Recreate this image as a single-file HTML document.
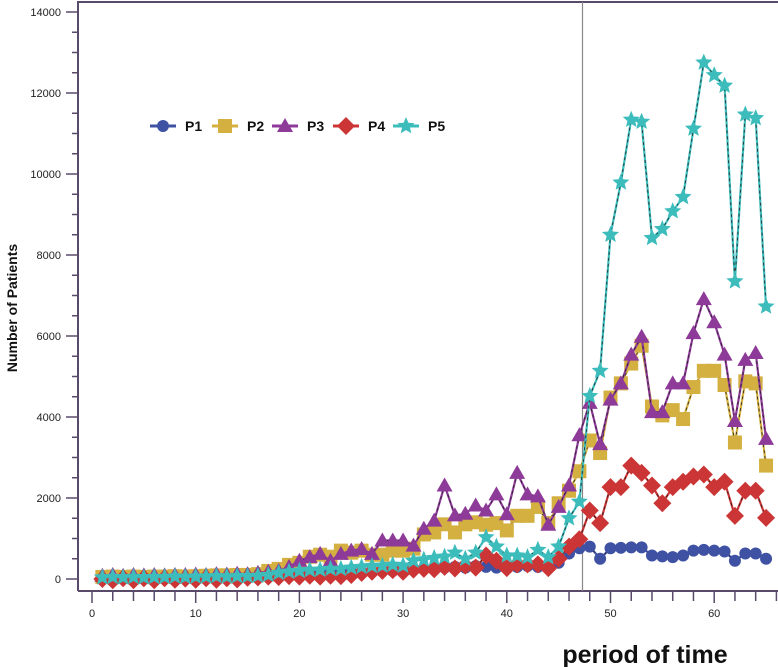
<!DOCTYPE html>
<html><head><meta charset="utf-8"><style>
html,body{margin:0;padding:0;background:#fff;width:778px;height:667px;overflow:hidden}
svg{display:block;font-family:"Liberation Sans",Arial,sans-serif}
</style></head><body>
<svg id="chart" width="778" height="667" viewBox="0 0 778 667" xmlns="http://www.w3.org/2000/svg"></svg>
<script>
const periods = Array.from({length:65},(_,i)=>i+1);
const p1 = [30,20,30,20,30,20,30,30,20,30,30,40,30,40,40,60,80,90,100,120,130,140,150,150,160,170,180,190,200,220,240,250,260,280,300,280,320,300,280,300,300,320,300,350,400,630,760,800,500,760,770,780,780,580,560,540,580,700,720,700,680,450,630,630,500];
const p2 = [50,60,50,60,50,60,60,70,60,70,80,90,90,100,100,120,200,250,350,400,550,600,550,700,650,700,600,600,700,700,750,1100,1150,1350,1150,1350,1400,1340,1380,1200,1560,1560,1780,1380,1870,2180,2660,3420,3110,4480,4830,5320,5760,4260,4040,4170,3950,4740,5140,5140,4790,3370,4880,4830,2800];
const p3 = [80,100,80,100,90,100,90,100,100,110,100,120,110,130,120,150,180,200,300,450,540,620,450,620,700,740,620,950,950,950,825,1240,1440,2310,1570,1610,1815,1690,2090,1600,2620,2090,2040,1340,1780,2310,3550,4350,3330,4430,4830,5540,5980,4120,4120,4830,4830,6070,6910,6340,5540,3900,5410,5580,3460];
const p4 = [0,-30,20,-30,20,-30,20,-20,10,-20,20,-20,20,-10,30,40,60,50,70,60,80,60,80,70,100,150,180,200,220,180,230,250,240,300,260,330,280,580,450,270,360,360,360,270,500,800,980,1690,1380,2270,2270,2800,2620,2310,1870,2270,2400,2530,2580,2270,2400,1560,2180,2180,1510];
const p5 = [40,50,40,50,40,50,50,60,50,60,60,70,60,70,70,80,100,150,180,200,220,230,250,250,280,300,320,330,350,330,450,480,520,550,650,500,650,1030,800,580,580,540,720,540,800,1500,1910,4520,5140,8500,9790,11340,11290,8420,8640,9080,9430,11120,12750,12440,12180,7350,11470,11380,6730];
const yTicks = [0,2000,4000,6000,8000,10000,12000,14000];
const xTicks = [0,10,20,30,40,50,60];
const seriesNames = ["P1","P2","P3","P4","P5"];

const svg = document.getElementById('chart');
const NS = 'http://www.w3.org/2000/svg';
const X0 = 92, XU = 10.37, Y0 = 579, YU = 81/2000;
const xs = v => X0 + v*XU;
const ys = v => Y0 - v*YU;
function mk(tag, attrs, parent){const e=document.createElementNS(NS,tag);for(const k in attrs)e.setAttribute(k,attrs[k]);(parent||svg).appendChild(e);return e;}

const frame = mk('path',{d:'M78 591 V2 H778 M78 591 H778',fill:'none',stroke:'#5a4a6a','stroke-width':2});



for(let v=0; v<=14000; v+=500){
  const major = v%2000===0;
  const t = mk('line',{x1:major?66:72,x2:78,y1:ys(v),y2:ys(v),stroke:'#5a4a6a','stroke-width':1.5});
  
  
}
yTicks.forEach(v=>{
  const t = mk('text',{x:61,y:ys(v)+4,'text-anchor':'end','font-size':11,fill:'#222'});
  t.textContent = v;
  
  
});
for(let v=0; v<=66; v+=2){
  const major = v%10===0;
  const t = mk('line',{x1:xs(v),x2:xs(v),y1:591,y2:major?603:601,stroke:'#5a4a6a','stroke-width':1.5});
  
  
}
xTicks.forEach(v=>{
  const t = mk('text',{x:xs(v),y:617,'text-anchor':'middle','font-size':11,fill:'#222'});
  t.textContent = v;
  
  
});
const vl = mk('line',{x1:xs(47.3),x2:xs(47.3),y1:2,y2:591,stroke:'#888','stroke-width':1.2});



const yt = mk('text',{x:0,y:0,transform:'translate(17,308) rotate(-90)','text-anchor':'middle','font-size':14,'font-weight':'bold',fill:'#111'});
yt.textContent='Number of Patients';


const xt = mk('text',{x:645,y:663,'text-anchor':'middle','font-size':25,'font-weight':'bold',fill:'#111'});
xt.textContent='period of time';



function star(cx,cy,r){let p=[];for(let i=0;i<10;i++){const a=-Math.PI/2+i*Math.PI/5;const rr=i%2?r*0.45:r;p.push((cx+rr*Math.cos(a)).toFixed(1)+','+(cy+rr*Math.sin(a)).toFixed(1));}return p.join(' ');}
function marker(type,cx,cy,color,g){
  if(type==='circle') return mk('circle',{cx,cy,r:6,fill:color},g);
  if(type==='square') return mk('rect',{x:cx-7,y:cy-7,width:14,height:14,fill:color},g);
  if(type==='tri') return mk('polygon',{points:`${cx},${cy-8} ${cx+8},${cy+6} ${cx-8},${cy+6}`,fill:color},g);
  if(type==='diamond') return mk('polygon',{points:`${cx},${cy-9} ${cx+9},${cy} ${cx},${cy+9} ${cx-9},${cy}`,fill:color},g);
  return mk('polygon',{points:star(cx,cy,9),fill:color},g);
}
const styles = [
  {data:p1,color:'#3f51a3',m:'circle'},
  {data:p2,color:'#d4b040',m:'square'},
  {data:p3,color:'#8e3a98',m:'tri'},
  {data:p4,color:'#cc3535',m:'diamond'},
  {data:p5,color:'#3dbcbc',m:'star'}
];
styles.forEach((s,si)=>{
  const g = mk('g',{});
  
  
  const d = s.data.map((v,i)=>(i?'L':'M')+xs(periods[i]).toFixed(1)+' '+ys(v).toFixed(1)).join(' ');
  mk('path',{d,fill:'none',stroke:s.color,'stroke-width':2.2},g);
  mk('path',{d,fill:'none',stroke:'#222','stroke-width':0.8,'stroke-dasharray':'3 3'},g);
  s.data.forEach((v,i)=>{
    const m = marker(s.m,xs(periods[i]),ys(v),s.color,g);
    
    
  });
});

const lg = mk('g',{});


const lx = [150,212,272,333,393];
styles.forEach((s,si)=>{
  const e = mk('g',{},lg);
  
  
  mk('line',{x1:lx[si],x2:lx[si]+26,y1:126,y2:126,stroke:s.color,'stroke-width':3},e);
  marker(s.m,lx[si]+13,126,s.color,e);
  const t = mk('text',{x:lx[si]+35,y:131,'font-size':14,'font-weight':'bold',fill:'#111'},e);
  t.textContent = seriesNames[si];
});
</script>
</body></html>
